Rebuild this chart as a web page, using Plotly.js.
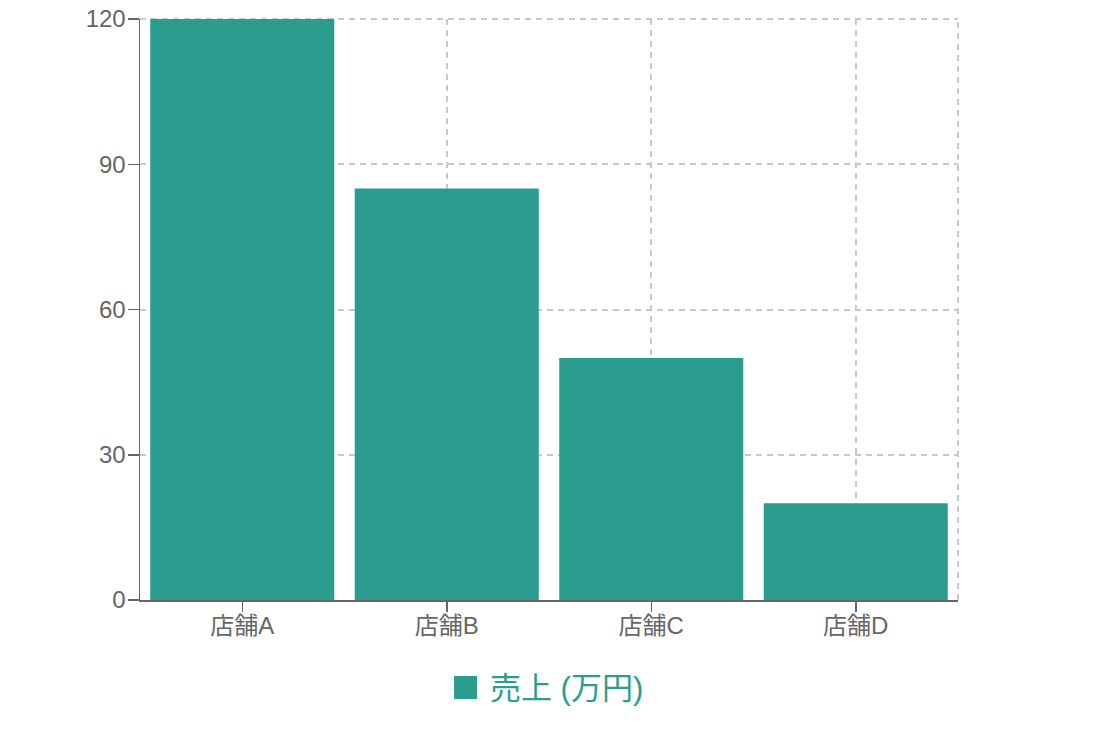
<!DOCTYPE html>
<html>
<head>
<meta charset="utf-8">
<script src="https://cdn.plot.ly/plotly-3.0.1.min.js"></script>
<style>html,body{margin:0;padding:0;background:#fff;}</style>
</head>
<body>
<div id="chart" style="width:1098px;height:736px;"></div>
<script>
const categories = ["店舗A", "店舗B", "店舗C", "店舗D"];
const sales = [120, 85, 50, 20];
const seriesName = "売上 (万円)";
const yTicks = [0, 30, 60, 90, 120];

const teal = "#2a9d8f";
const gridCol = "#c8c8c8";
const fontFam = "Liberation Sans, Arial, 'Noto Sans CJK JP', sans-serif";

const data = [{
  type: "bar",
  x: categories,
  y: sales,
  name: seriesName,
  marker: {color: teal},
  showlegend: false,
  hoverinfo: "x+y"
}];

const layout = {
  width: 1098, height: 736,
  margin: {l: 140, r: 140, t: 19, b: 136},
  paper_bgcolor: "#fff", plot_bgcolor: "#fff",
  font: {family: fontFam, color: "#666", size: 24},
  bargap: 0.1,
  xaxis: {
    type: "category",
    showline: true, linecolor: "#666", linewidth: 1.5,
    ticks: "outside", ticklen: 10, tickcolor: "#666", tickwidth: 1.5,
    ticklabelstandoff: -6,
    showgrid: true, gridcolor: gridCol, griddash: "6px,5px", gridwidth: 2,
    tickfont: {size: 24, color: "#666"},
    zeroline: false, fixedrange: true
  },
  yaxis: {
    range: [0, 120],
    tickvals: yTicks,
    showline: true, linecolor: "#666", linewidth: 1.5,
    ticks: "outside", ticklen: 11, tickcolor: "#666", tickwidth: 1.5,
    ticklabelstandoff: -3,
    showgrid: true, gridcolor: gridCol, griddash: "6px,5px", gridwidth: 2,
    tickfont: {size: 24, color: "#666"},
    zeroline: false, fixedrange: true
  },
  shapes: [
    {
      type: "line", xref: "paper", yref: "paper",
      x0: 1, x1: 1, y0: 0, y1: 1, layer: "below",
      line: {color: gridCol, width: 2, dash: "6px,5px"}
    },
    {
      type: "line", xref: "paper", yref: "paper",
      x0: 0, x1: 1, y0: 1, y1: 1, layer: "below",
      line: {color: gridCol, width: 2, dash: "6px,5px"}
    },
    {
      // legend key
      type: "rect", xref: "paper", yref: "paper",
      x0: 0.3839, x1: 0.4120, y0: -0.1704, y1: -0.1308,
      fillcolor: teal, line: {width: 0}
    }
  ],
  annotations: [{
    // legend label
    text: seriesName, showarrow: false,
    xref: "paper", yref: "paper",
    x: 0.4254, xanchor: "left",
    y: -0.1515, yanchor: "middle",
    font: {size: 31, color: teal, family: fontFam}
  }]
};

Plotly.newPlot("chart", data, layout, {displayModeBar: false, staticPlot: true});
</script>
</body>
</html>
